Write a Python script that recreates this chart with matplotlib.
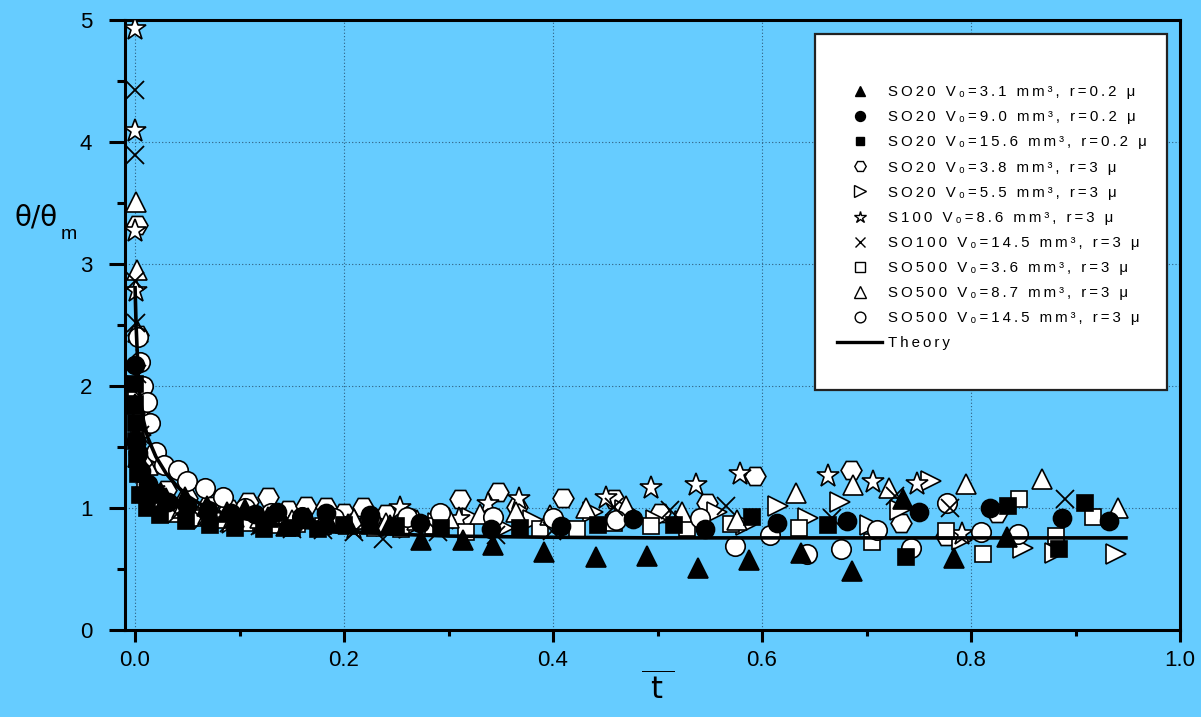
import matplotlib
matplotlib.use("Agg")
import matplotlib.pyplot as plt
from matplotlib.lines import Line2D
from matplotlib.patches import Rectangle
from matplotlib.ticker import MultipleLocator

BG = "#66ccff"
FONT = ["Liberation Sans", "DejaVu Sans"]
plt.rcParams["font.family"] = FONT

# ---- measured contact-angle relaxation, theta/theta_m vs reduced time ----
t_so20_31 = [0.000, 0.001, 0.003, 0.006, 0.012, 0.020, 0.030, 0.048, 0.069, 0.088, 0.105, 0.127, 0.144,
             0.166, 0.186, 0.204, 0.226, 0.244, 0.274, 0.314, 0.343, 0.391, 0.441, 0.490, 0.539, 0.588,
             0.637, 0.686, 0.735, 0.784, 0.834]
y_so20_31 = [1.85, 1.60, 1.42, 1.30, 1.20, 1.13, 1.08, 1.09, 1.02, 0.97, 0.99, 0.93, 0.85,
             0.92, 0.88, 0.87, 0.87, 0.86, 0.74, 0.74, 0.70, 0.64, 0.60, 0.61, 0.51, 0.57,
             0.63, 0.48, 1.07, 0.59, 0.76]

t_so20_90 = [0.000, 0.001, 0.003, 0.006, 0.012, 0.020, 0.032, 0.050, 0.070, 0.092, 0.115, 0.136, 0.160,
             0.183, 0.225, 0.273, 0.341, 0.408, 0.477, 0.545, 0.614, 0.681, 0.750, 0.818, 0.887, 0.932]
y_so20_90 = [2.17, 1.55, 1.45, 1.30, 1.20, 1.12, 1.05, 1.02, 0.98, 0.96, 0.95, 0.97, 0.93,
             0.96, 0.94, 0.88, 0.83, 0.85, 0.91, 0.83, 0.88, 0.89, 0.97, 1.00, 0.92, 0.89]

t_so20_156 = [0.000, 0.000, 0.001, 0.001, 0.002, 0.003, 0.005, 0.011, 0.024, 0.049, 0.072, 0.096, 0.123,
              0.150, 0.175, 0.200, 0.225, 0.250, 0.293, 0.368, 0.443, 0.516, 0.590, 0.663, 0.738, 0.835,
              0.884, 0.909]
y_so20_156 = [2.02, 1.85, 1.70, 1.55, 1.40, 1.28, 1.11, 1.00, 0.94, 0.89, 0.86, 0.84, 0.83,
              0.84, 0.83, 0.86, 0.87, 0.85, 0.84, 0.84, 0.86, 0.86, 0.93, 0.86, 0.60, 1.02,
              0.66, 1.04]

t_so20_38 = [0.002, 0.003, 0.006, 0.015, 0.030, 0.050, 0.070, 0.090, 0.108, 0.127, 0.146, 0.164, 0.183,
             0.200, 0.218, 0.240, 0.262, 0.290, 0.311, 0.347, 0.366, 0.410, 0.458, 0.502, 0.547, 0.593,
             0.685, 0.733, 0.776, 0.825]
y_so20_38 = [3.32, 2.42, 1.75, 1.35, 1.15, 1.08, 1.02, 0.99, 1.05, 1.09, 0.98, 1.02, 1.01,
             0.96, 1.01, 0.95, 0.92, 0.93, 1.07, 1.13, 1.01, 1.08, 1.07, 0.96, 1.04, 1.26,
             1.31, 0.88, 0.77, 0.96]

t_so20_55 = [0.002, 0.006, 0.012, 0.022, 0.035, 0.055, 0.075, 0.095, 0.115, 0.140, 0.165, 0.190, 0.215,
             0.240, 0.262, 0.290, 0.322, 0.353, 0.381, 0.410, 0.438, 0.469, 0.499, 0.526, 0.557, 0.585,
             0.615, 0.644, 0.675, 0.703, 0.732, 0.762, 0.791, 0.850, 0.880, 0.939]
y_so20_55 = [2.00, 1.60, 1.30, 1.12, 1.02, 0.95, 0.92, 0.90, 0.93, 0.90, 0.88, 0.90, 0.87,
             0.85, 0.84, 0.88, 0.92, 0.84, 0.90, 0.88, 0.97, 0.98, 0.90, 0.89, 0.97, 0.86,
             1.02, 0.92, 1.05, 0.86, 0.98, 1.22, 0.74, 0.67, 0.63, 0.62]

t_s100_86 = [0.000, 0.000, 0.000, 0.001, 0.003, 0.008, 0.018, 0.035, 0.060, 0.090, 0.120, 0.150, 0.180,
             0.210, 0.254, 0.310, 0.338, 0.367, 0.451, 0.494, 0.537, 0.579, 0.663, 0.706, 0.748, 0.791]
y_s100_86 = [4.93, 4.09, 3.27, 2.78, 2.00, 1.45, 1.15, 0.98, 0.92, 0.88, 0.87, 0.85, 0.86,
             0.84, 1.00, 0.91, 1.03, 1.07, 1.08, 1.16, 1.19, 1.28, 1.26, 1.21, 1.20, 0.79]

t_so100_145 = [0.000, 0.000, 0.000, 0.001, 0.002, 0.005, 0.010, 0.020, 0.040, 0.065, 0.090, 0.120, 0.150,
               0.180, 0.210, 0.237, 0.290, 0.345, 0.399, 0.458, 0.512, 0.566, 0.667, 0.727, 0.780, 0.890]
y_so100_145 = [4.43, 3.89, 2.86, 2.52, 2.10, 1.60, 1.30, 1.08, 0.95, 0.90, 0.88, 0.85, 0.83,
               0.82, 0.80, 0.75, 0.80, 0.78, 0.81, 1.01, 0.98, 1.02, 0.92, 1.10, 1.00, 1.07]

t_so500_36 = [0.001, 0.004, 0.010, 0.020, 0.035, 0.055, 0.080, 0.105, 0.130, 0.155, 0.180, 0.205, 0.230,
              0.255, 0.285, 0.317, 0.388, 0.423, 0.458, 0.494, 0.528, 0.570, 0.635, 0.705, 0.776, 0.811,
              0.846, 0.881, 0.917]
y_so500_36 = [1.90, 1.40, 1.15, 1.02, 0.95, 0.92, 0.90, 0.88, 0.86, 0.87, 0.85, 0.86, 0.84,
              0.83, 0.85, 0.80, 0.83, 0.83, 0.88, 0.85, 0.84, 0.87, 0.84, 0.72, 0.81, 0.62,
              1.07, 0.77, 0.93]

t_so500_87 = [0.001, 0.002, 0.003, 0.006, 0.012, 0.025, 0.045, 0.070, 0.095, 0.120, 0.150, 0.180, 0.210,
              0.240, 0.270, 0.300, 0.330, 0.365, 0.397, 0.432, 0.470, 0.523, 0.576, 0.633, 0.687, 0.722,
              0.795, 0.868, 0.941]
y_so500_87 = [3.51, 2.95, 2.44, 1.80, 1.35, 1.12, 1.00, 0.95, 0.93, 0.92, 0.90, 0.89, 0.91,
              0.88, 0.90, 0.92, 0.95, 0.97, 0.94, 1.00, 1.02, 0.97, 0.90, 1.12, 1.19, 1.16,
              1.20, 1.24, 1.00]

t_so500_145 = [0.003, 0.005, 0.008, 0.011, 0.014, 0.020, 0.028, 0.041, 0.050, 0.067, 0.084, 0.105, 0.130,
               0.160, 0.190, 0.225, 0.260, 0.292, 0.343, 0.400, 0.460, 0.541, 0.574, 0.608, 0.643, 0.676,
               0.710, 0.743, 0.777, 0.810, 0.845]
y_so500_145 = [2.40, 2.20, 2.00, 1.87, 1.70, 1.46, 1.35, 1.31, 1.22, 1.16, 1.09, 1.00, 0.96,
               0.93, 0.92, 0.91, 0.93, 0.96, 0.93, 0.92, 0.90, 0.92, 0.69, 0.78, 0.62, 0.66,
               0.82, 0.67, 1.04, 0.80, 0.79]

t_theory = [0.000, 0.001, 0.003, 0.005, 0.008, 0.012, 0.016, 0.020, 0.030, 0.040, 0.050, 0.063, 0.080,
            0.100, 0.125, 0.150, 0.200, 0.250, 0.300, 0.400, 0.500, 0.950]
y_theory = [2.82, 2.50, 2.10, 1.90, 1.72, 1.58, 1.50, 1.42, 1.28, 1.18, 1.10, 1.03, 0.97,
            0.92, 0.88, 0.85, 0.81, 0.785, 0.77, 0.76, 0.755, 0.755]

labels = [
    "SO20 V\u2080=3.1 mm\u00b3, r=0.2 \u03bc",
    "SO20 V\u2080=9.0 mm\u00b3, r=0.2 \u03bc",
    "SO20 V\u2080=15.6 mm\u00b3, r=0.2 \u03bc",
    "SO20 V\u2080=3.8 mm\u00b3, r=3 \u03bc",
    "SO20 V\u2080=5.5 mm\u00b3, r=3 \u03bc",
    "S100 V\u2080=8.6 mm\u00b3, r=3 \u03bc",
    "SO100 V\u2080=14.5 mm\u00b3, r=3 \u03bc",
    "SO500 V\u2080=3.6 mm\u00b3, r=3 \u03bc",
    "SO500 V\u2080=8.7 mm\u00b3, r=3 \u03bc",
    "SO500 V\u2080=14.5 mm\u00b3, r=3 \u03bc",
]

# (t, y, marker, facecolor, size)
series = [
    (t_so20_31, y_so20_31, "^", "black", 14),
    (t_so20_90, y_so20_90, "o", "black", 13),
    (t_so20_156, y_so20_156, "s", "black", 11),
    (t_so20_38, y_so20_38, "H", "white", 15),
    (t_so20_55, y_so20_55, ">", "white", 15),
    (t_s100_86, y_s100_86, "*", "white", 17),
    (t_so100_145, y_so100_145, "x", "black", 13),
    (t_so500_36, y_so500_36, "s", "white", 12),
    (t_so500_87, y_so500_87, "^", "white", 15),
    (t_so500_145, y_so500_145, "o", "white", 14),
]


def spaced(s):
    # wide tracking, faked with thin spaces between characters
    return "\u2009".join(s)


fig = plt.figure(figsize=(12.01, 7.17), dpi=100, facecolor=BG)
ax = fig.add_axes([125 / 1201, 1 - 630 / 717, 1055 / 1201, 610 / 717], facecolor=BG)

# open symbols first, filled ones end up on top
for t, y, m, fc, ms in series:
    z = 3.5 if fc == "black" else 3
    ax.plot(t, y, ls="none", marker=m, ms=ms, mfc=fc, mec="black", mew=1.2 if m != "x" else 1.3,
            zorder=z)
ax.plot(t_theory, y_theory, color="black", lw=2.6, zorder=4, solid_capstyle="butt")

ax.set_xlim(-0.0096, 1.0)
ax.set_ylim(0, 5)
ax.xaxis.set_major_locator(MultipleLocator(0.2))
ax.xaxis.set_minor_locator(MultipleLocator(0.1))
ax.yaxis.set_major_locator(MultipleLocator(1))
ax.yaxis.set_minor_locator(MultipleLocator(0.5))
ax.xaxis.set_major_formatter(plt.FuncFormatter(lambda v, p: f"{v:.1f}"))
ax.grid(True, which="major", color="#2e5f80", ls=(0, (1, 2)), lw=0.8, zorder=1)
ax.set_axisbelow(True)

for sp in ax.spines.values():
    sp.set_linewidth(2.2)
ax.tick_params(which="major", direction="out", width=2.2, labelsize=16)
ax.tick_params(axis="y", which="major", length=11.5, pad=12)
ax.tick_params(axis="y", which="minor", length=6, width=2.2)
ax.tick_params(axis="x", which="major", length=8.5, pad=6)
ax.tick_params(axis="x", which="minor", length=4, width=2.2)

fig.text(658 / 1201, 1 - 690 / 717, r"$\overline{\ \mathsf{t}\ }$", fontsize=22,
         ha="center", va="center")
fig.text(36 / 1201, 1 - 218 / 717, "\u03b8/\u03b8", fontsize=20, ha="center", va="center",
         family=["DejaVu Sans"])
fig.text(69 / 1201, 1 - 234 / 717, "m", fontsize=14, ha="center", va="center")

# legend: white box with a frameless legend placed inside it
ax.add_patch(Rectangle((0.654, 0.393), 0.334, 0.584, transform=ax.transAxes, facecolor="white",
                       edgecolor="#222222", lw=1.6, zorder=8, clip_on=False))
handles = [Line2D([], [], ls="none", marker=m, ms=ms * 0.55, mfc=fc, mec="black", mew=1.0)
           for _, _, m, fc, ms in series]
handles.append(Line2D([], [], color="black", lw=2.4))
leg = ax.legend(handles, [spaced(l) for l in labels] + [spaced("Theory")],
                loc="upper left", bbox_to_anchor=(0.675, 0.893), frameon=False,
                fontsize=10.8, handlelength=3.0, handletextpad=0.4, labelspacing=0.74,
                borderpad=0, borderaxespad=0)
leg.set_zorder(9)

fig.savefig("out.png", dpi=100, facecolor=BG)
